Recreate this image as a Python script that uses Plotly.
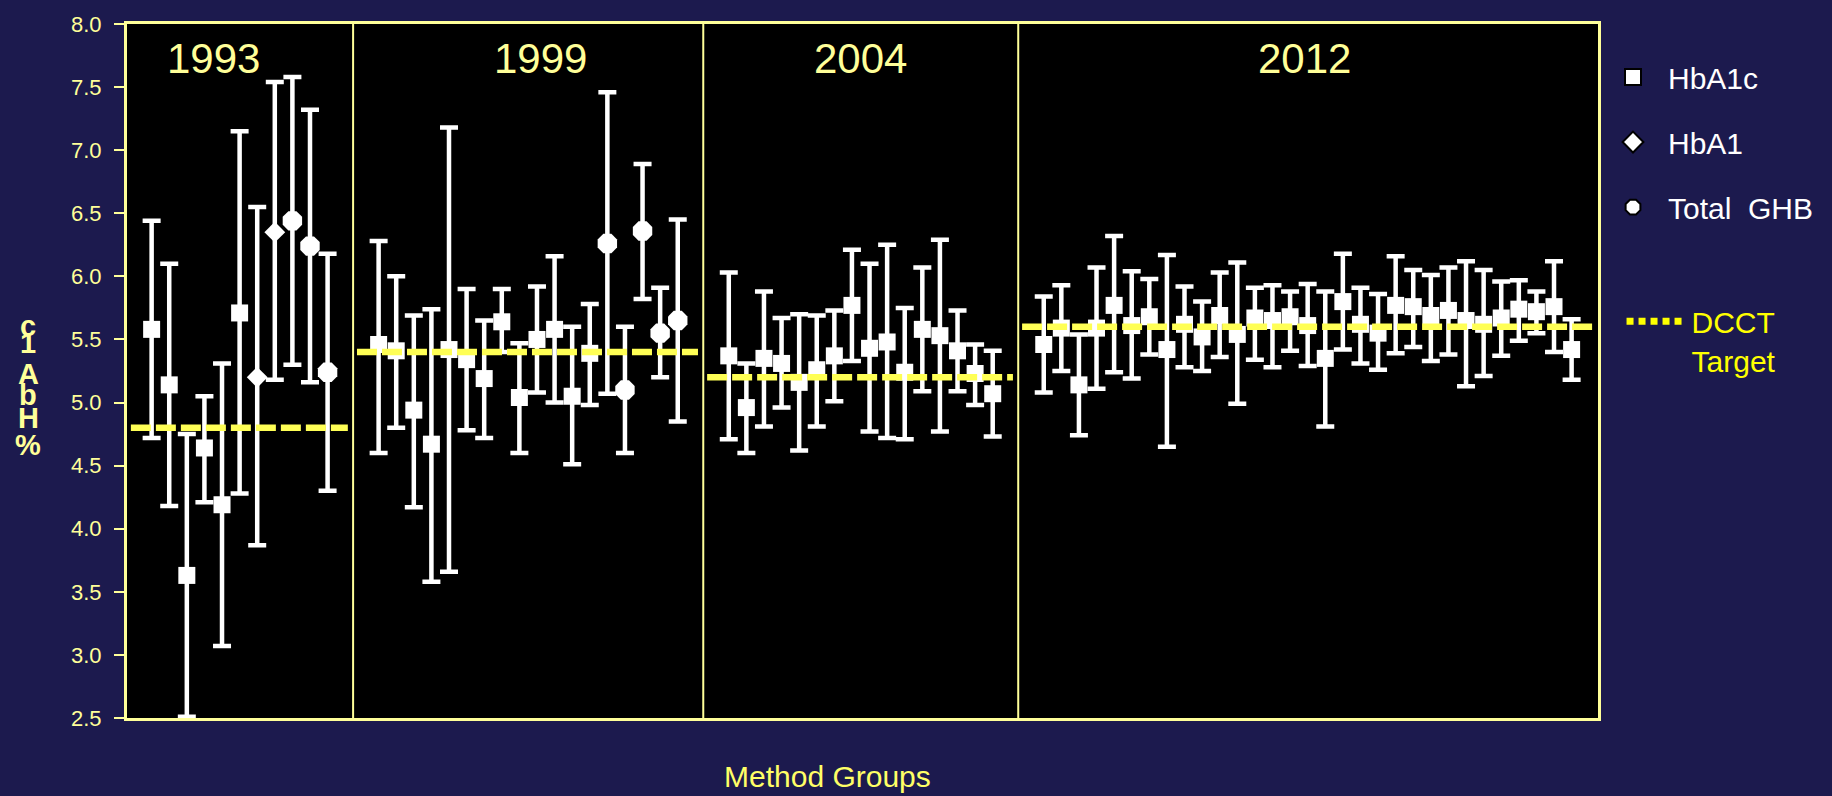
import plotly.graph_objects as go

# ---- data -------------------------------------------------------------
years = ["1993", "1999", "2004", "2012"]
dcct_target = [4.8, 5.4, 5.2, 5.6]

mean_1993 = [5.58, 5.14, 3.63, 4.64, 4.19, 5.71, 5.20, 6.35, 6.44, 6.24, 5.24]
upper_1993 = [6.44, 6.10, 4.75, 5.05, 5.31, 7.15, 6.55, 7.54, 7.58, 7.32, 6.18]
lower_1993 = [4.72, 4.18, 2.51, 4.21, 3.07, 4.28, 3.87, 5.18, 5.30, 5.16, 4.30]
method_1993 = ["HbA1c", "HbA1c", "HbA1c", "HbA1c", "HbA1c", "HbA1c",
               "HbA1", "HbA1", "Total GHB", "Total GHB", "Total GHB"]

mean_1999 = [5.46, 5.41, 4.94, 4.67, 5.42, 5.34, 5.19, 5.64, 5.04, 5.50,
             5.58, 5.05, 5.39, 6.26, 5.10, 6.36, 5.55, 5.65]
upper_1999 = [6.28, 6.00, 5.69, 5.74, 7.18, 5.90, 5.65, 5.90, 5.47, 5.92,
              6.16, 5.60, 5.78, 7.46, 5.60, 6.89, 5.91, 6.45]
lower_1999 = [4.60, 4.80, 4.17, 3.58, 3.66, 4.78, 4.72, 5.40, 4.60, 5.08,
              5.00, 4.51, 4.98, 5.07, 4.60, 5.82, 5.20, 4.85]
method_1999 = ["HbA1c"] * 13 + ["Total GHB", "Total GHB", "Total GHB",
                                "Total GHB", "Total GHB"]

mean_2004 = [5.37, 4.96, 5.35, 5.31, 5.16, 5.26, 5.37, 5.77, 5.43, 5.48,
             5.24, 5.58, 5.53, 5.41, 5.23, 5.07]
upper_2004 = [6.03, 5.31, 5.88, 5.67, 5.70, 5.69, 5.73, 6.21, 6.10, 6.25,
              5.75, 6.07, 6.29, 5.73, 5.46, 5.41]
lower_2004 = [4.71, 4.60, 4.81, 4.96, 4.62, 4.81, 5.01, 5.33, 4.77, 4.72,
              4.71, 5.09, 4.77, 5.09, 4.98, 4.73]
method_2004 = ["HbA1c"] * 16

mean_2012 = [5.46, 5.59, 5.14, 5.59, 5.77, 5.61, 5.68, 5.42, 5.62, 5.52,
             5.69, 5.54, 5.67, 5.65, 5.68, 5.61, 5.35, 5.80, 5.62, 5.55,
             5.77, 5.76, 5.69, 5.73, 5.65, 5.62, 5.67, 5.74, 5.72, 5.76, 5.42]
upper_2012 = [5.84, 5.93, 5.54, 6.07, 6.32, 6.04, 5.98, 6.17, 5.92, 5.80,
              6.03, 6.11, 5.91, 5.93, 5.88, 5.94, 5.88, 6.18, 5.91, 5.86,
              6.16, 6.05, 6.01, 6.07, 6.12, 6.05, 5.96, 5.97, 5.88, 6.12, 5.66]
lower_2012 = [5.08, 5.25, 4.74, 5.11, 5.24, 5.19, 5.38, 4.65, 5.28, 5.25,
              5.36, 4.99, 5.34, 5.28, 5.41, 5.29, 4.81, 5.42, 5.31, 5.26,
              5.39, 5.44, 5.33, 5.38, 5.13, 5.21, 5.37, 5.49, 5.55, 5.40, 5.18]
method_2012 = ["HbA1c"] * 31

y_ticks = [2.5, 3.0, 3.5, 4.0, 4.5, 5.0, 5.5, 6.0, 6.5, 7.0, 7.5, 8.0]
method_types = ["HbA1c", "HbA1", "Total GHB"]

means = [mean_1993, mean_1999, mean_2004, mean_2012]
uppers = [upper_1993, upper_1999, upper_2004, upper_2012]
lowers = [lower_1993, lower_1999, lower_2004, lower_2012]
methods = [method_1993, method_1999, method_2004, method_2012]

# ---- styling ----------------------------------------------------------
NAVY = "#1C1A4E"
PALE_YELLOW = "#FFFF99"
TARGET_YELLOW = "#FFFF55"
FONT = "Liberation Sans, Arial, sans-serif"
GROUP_GAP = 1.9          # extra slots between survey years
X_RANGE = [-1.4, 82.2]

symbols = {"HbA1c": "square", "HbA1": "diamond", "Total GHB": "octagon"}
sizes = {"HbA1c": 17, "HbA1": 16, "Total GHB": 21}

# slot positions of each method within its year panel
positions = []
start = 0.0
for vals in means:
    positions.append([start + i for i in range(len(vals))])
    start += len(vals) + GROUP_GAP

# panel boundaries sit halfway between neighbouring panels
bounds = [X_RANGE[0]]
for a, b in zip(positions[:-1], positions[1:]):
    bounds.append((a[-1] + b[0]) / 2)
bounds.append(X_RANGE[1])

fig = go.Figure()

# markers with asymmetric error bars, one trace per method type
for mt in method_types:
    xs, ys, ep, em = [], [], [], []
    for pos, m, u, lo, kinds in zip(positions, means, uppers, lowers, methods):
        for x, v, hi, low, k in zip(pos, m, u, lo, kinds):
            if k == mt:
                xs.append(x)
                ys.append(v)
                ep.append(round(hi - v, 3))
                em.append(round(v - low, 3))
    fig.add_trace(go.Scatter(
        x=xs, y=ys, mode="markers", name=mt, showlegend=False,
        cliponaxis=False,
        marker=dict(symbol=symbols[mt], size=sizes[mt], color="white",
                    line=dict(width=0)),
        error_y=dict(type="data", symmetric=False, array=ep, arrayminus=em,
                     color="white", thickness=4.5, width=9),
    ))

# DCCT target lines across each panel
for g, tgt in enumerate(dcct_target):
    fig.add_trace(go.Scatter(
        x=[bounds[g] + 0.22, bounds[g + 1] - 0.3], y=[tgt, tgt],
        mode="lines", showlegend=False, hoverinfo="skip",
        line=dict(color=TARGET_YELLOW, width=6.5, dash="20px,5px"),
    ))

# legend entries
legend_names = {"HbA1c": "HbA1c", "HbA1": "HbA1", "Total GHB": "Total\u00a0 GHB"}
for mt in method_types:
    fig.add_trace(go.Scatter(
        x=[None], y=[None], mode="markers", name=legend_names[mt],
        legendgroup=mt, legend="legend",
        marker=dict(symbol=symbols[mt], size=16, color="white",
                    line=dict(color="black", width=2)),
    ))
fig.add_trace(go.Scatter(
    x=[None], y=[None], mode="lines", name="DCCT<br>Target",
    legend="legend2",
    line=dict(color="#FFFF00", width=7, dash="7px,5px"),
))

# panel dividers
shapes = []
for b in bounds[1:-1]:
    shapes.append(dict(type="line", xref="x", yref="paper", x0=b, x1=b,
                       y0=0, y1=1, line=dict(color=PALE_YELLOW, width=2)))

# year labels
label_shift = [-1.5, 0.7, 0.0, -0.2]
annotations = []
for pos, yr, sh in zip(positions, years, label_shift):
    annotations.append(dict(
        x=(pos[0] + pos[-1]) / 2 + sh, y=0.951, xref="x", yref="paper",
        text=yr, showarrow=False, xanchor="center", yanchor="middle",
        font=dict(family=FONT, size=42, color=PALE_YELLOW)))

# stacked y-axis title letters (%HbA1c read bottom to top)
title_letters = ["c", "1", "A", "b", "H", "%"]
title_y = [5.61, 5.47, 5.23, 5.06, 4.88, 4.66]
for ch, yy in zip(title_letters, title_y):
    annotations.append(dict(
        x=-0.0673, y=yy, xref="paper", yref="y", text=ch, showarrow=False,
        xanchor="center", yanchor="middle",
        font=dict(family=FONT, size=29, color=PALE_YELLOW, weight="bold")))

annotations.append(dict(
    x=0.476, y=-0.084, xref="paper", yref="paper", text="Method Groups",
    showarrow=False, xanchor="center", yanchor="middle",
    font=dict(family=FONT, size=30, color="#FFFF66")))

fig.update_layout(
    width=1832, height=796,
    margin=dict(l=127, r=234, t=15, b=78),
    paper_bgcolor=NAVY, plot_bgcolor="black",
    font=dict(family=FONT),
    shapes=shapes, annotations=annotations,
    legend=dict(x=1.0, y=0.961, xanchor="left", yanchor="top",
                bgcolor="rgba(0,0,0,0)", borderwidth=0, itemwidth=60,
                tracegroupgap=23,
                font=dict(family=FONT, size=30, color="white")),
    legend2=dict(x=1.016, y=0.609, xanchor="left", yanchor="top",
                 bgcolor="rgba(0,0,0,0)", borderwidth=0, itemwidth=60,
                 valign="top",
                 font=dict(family=FONT, size=30, color="#FFFF00")),
    xaxis=dict(range=X_RANGE, showgrid=False, zeroline=False,
               showticklabels=False, ticks="", showline=True, mirror=True,
               linecolor=PALE_YELLOW, linewidth=3),
    yaxis=dict(range=[2.5, 8.0], tickvals=y_ticks, tickformat=".1f",
               showgrid=False, zeroline=False, ticks="outside", ticklen=10,
               tickwidth=2, tickcolor=PALE_YELLOW, showline=True, mirror=True,
               linecolor=PALE_YELLOW, linewidth=3, ticklabelstandoff=8,
               tickfont=dict(family=FONT, size=22, color=PALE_YELLOW)),
)

fig.write_html("out.html")
